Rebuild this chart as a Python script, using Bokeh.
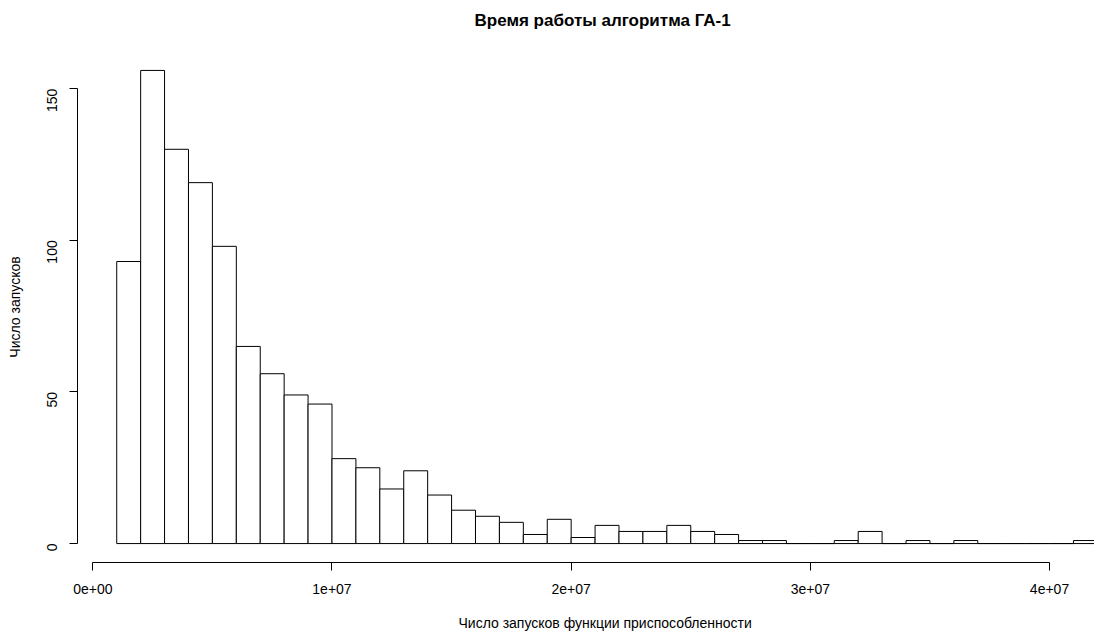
import math
from bokeh.plotting import figure
from bokeh.models import FixedTicker, Range1d, Title, LinearAxis
from bokeh.embed import file_html
from bokeh.resources import INLINE

# Histogram data (bin width 1e6, from 1e6 to 42e6)
bin_start = 1e6
bin_width = 1e6
counts = [93, 156, 130, 119, 98, 65, 56, 49, 46, 28,
          25, 18, 24, 16, 11, 9, 7, 3, 8, 2,
          6, 4, 4, 6, 4, 3, 1, 1, 0, 0,
          1, 4, 0, 1, 0, 1, 0, 0, 0, 0,
          1]
x_ticks = [0, 1e7, 2e7, 3e7, 4e7]
x_tick_labels = ["0e+00", "1e+07", "2e+07", "3e+07", "4e+07"]
y_ticks = [0, 50, 100, 150]

title_text = "Время работы алгоритма ГА-1"
x_title = "Число запусков функции приспособленности"
y_title = "Число запусков"

lefts = [bin_start + i * bin_width for i in range(len(counts))]
rights = [l + bin_width for l in lefts]
bottoms = [0] * len(counts)

FONT = "Liberation Sans"

p = figure(width=1094, height=635, output_backend="svg", toolbar_location=None,
           x_range=Range1d(-0.64e6, 41.88e6), y_range=Range1d(-6.24, 162.24),
           min_border_left=77, min_border_right=0, min_border_top=51,
           min_border_bottom=73)
p.outline_line_color = None
p.background_fill_color = "white"
p.border_fill_color = "white"
p.xgrid.visible = False
p.ygrid.visible = False

p.quad(left=lefts, right=rights, bottom=bottoms, top=counts,
       fill_color="white", line_color="black", line_width=1)

# x axis
xa = p.xaxis[0]
xa.ticker = FixedTicker(ticks=x_ticks)
xa.major_label_overrides = {t: s for t, s in zip(x_ticks, x_tick_labels)}
xa.bounds = (x_ticks[0], x_ticks[-1])
xa.minor_tick_line_color = None
xa.major_tick_out = 8
xa.major_tick_in = 0
xa.major_label_standoff = 13
xa.major_label_text_font = FONT
xa.major_label_text_font_size = "14px"
xa.major_label_text_color = "black"
xa.axis_line_color = "black"
xa.major_tick_line_color = "black"

# y axis
ya = p.yaxis[0]
ya.ticker = FixedTicker(ticks=y_ticks)
ya.bounds = (y_ticks[0], y_ticks[-1])
ya.minor_tick_line_color = None
ya.major_tick_out = 8
ya.major_tick_in = 0
ya.major_label_standoff = 17
ya.major_label_orientation = math.pi / 2
ya.major_label_text_font = FONT
ya.major_label_text_font_size = "14px"
ya.major_label_text_color = "black"
ya.axis_line_color = "black"
ya.major_tick_line_color = "black"
ya.axis_label = y_title
ya.axis_label_text_font = FONT
ya.axis_label_text_font_size = "14px"
ya.axis_label_text_font_style = "normal"
ya.axis_label_text_color = "black"
ya.axis_label_standoff = 17


def spacer(size):
    # invisible axis used only to reserve space in a side panel
    return LinearAxis(ticker=FixedTicker(ticks=[x_ticks[1]]), axis_line_color=None,
                      major_tick_line_color=None, minor_tick_line_color=None,
                      major_tick_out=size, major_tick_in=0, minor_tick_out=0,
                      minor_tick_in=0, major_label_standoff=0,
                      major_label_overrides={x_ticks[1]: ""},
                      major_label_text_font_size="0px", major_label_text_alpha=0)


# main title (spacer first: it sits between the frame and the title)
p.add_layout(spacer(14), "above")
t = Title(text=title_text, align="left", offset=397, text_font=FONT,
          text_font_size="17px", text_font_style="bold", text_color="black",
          standoff=16)
p.add_layout(t, "above")

# x axis title
p.add_layout(spacer(14), "below")
xt = Title(text=x_title, align="left", offset=381, text_font=FONT,
           text_font_size="14px", text_font_style="normal", text_color="black",
           standoff=5)
p.add_layout(xt, "below")

open("out.html", "w").write(file_html(p, INLINE))
